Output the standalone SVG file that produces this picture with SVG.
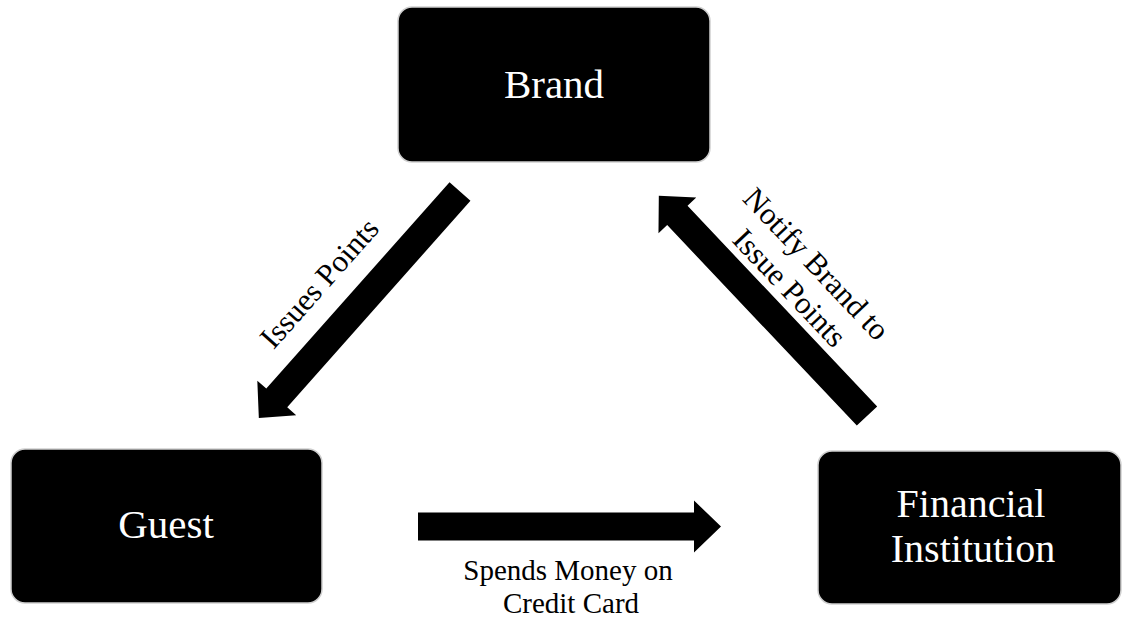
<svg xmlns="http://www.w3.org/2000/svg" width="1122" height="620" viewBox="0 0 1122 620">
<style>
.box{fill:#000;stroke:#cfcfcf;stroke-width:1.5}
.nt{font-family:"Liberation Serif","Times New Roman",serif;font-size:41px;fill:#fff;text-anchor:middle}
.lt{font-family:"Liberation Serif","Times New Roman",serif;font-size:31px;fill:#000;text-anchor:middle}
.arr{fill:#000}
</style>
<defs>
<path id="arrow" d="M0,-14 H276 V-26 L303,0 L276,26 V14 H0 Z"/>
</defs>
<rect width="1122" height="620" fill="#fff"/>
<g id="brand">
<rect class="box" x="398" y="7" width="312" height="155" rx="14"/>
<text class="nt" x="554" y="98">Brand</text>
</g>
<g id="guest">
<rect class="box" x="11" y="449" width="311" height="154" rx="14"/>
<text class="nt" x="166" y="538">Guest</text>
</g>
<g id="financial">
<rect class="box" x="818" y="451" width="303" height="153" rx="14"/>
<text class="nt" style="font-size:40px"><tspan x="971" y="517">Financial</tspan><tspan x="973" y="562">Institution</tspan></text>
</g>
<g id="connectors">
<use href="#arrow" class="arr" transform="translate(460,191.5) rotate(131.6)"/>
<use href="#arrow" class="arr" transform="translate(867,416) rotate(-133.4)"/>
<use href="#arrow" class="arr" transform="translate(418,526.5)"/>
<text class="lt" transform="translate(327,290) rotate(-48.4)">Issues Points</text>
<text class="lt" transform="translate(809,271) rotate(46.6)"><tspan x="0" y="0">Notify Brand to</tspan><tspan x="-1" y="36">Issue Points</tspan></text>
<text class="lt" style="font-size:29px"><tspan x="568" y="580">Spends Money on</tspan><tspan x="571" y="613">Credit Card</tspan></text>
</g>
</svg>
